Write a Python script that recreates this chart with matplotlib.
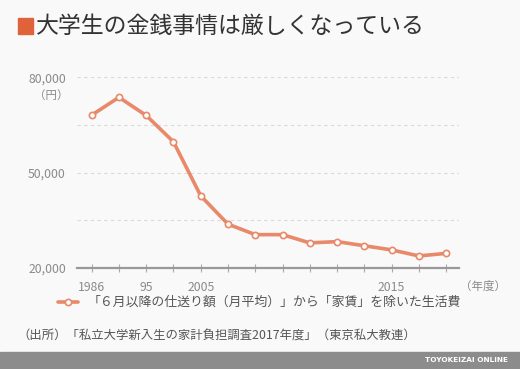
import numpy as np
import matplotlib.pyplot as plt
from matplotlib.patches import Rectangle

plt.rcParams['font.family'] = ['Noto Sans CJK JP', 'DejaVu Sans']

# データ（東京私大教連）
tick_labels = ["1986", "", "95", "", "2005", "", "", "", "", "", "", "2015", "", ""]
living = [68100, 73700, 68000, 59700, 42700, 33800, 30500,
          30500, 27900, 28300, 27000, 25700, 23800, 24600]

yticks = [20000, 35000, 50000, 65000, 80000]
ytick_labels = ["20,000", "", "50,000", "", "80,000"]

bg = "#f9f9f9"
orange = "#e8896a"

fig = plt.figure(figsize=(5.2, 3.69), dpi=100, facecolor=bg)
ax = fig.add_axes([0.148, 0.2737, 0.735, 0.5168], facecolor=bg)

x = np.arange(len(living))
ax.plot(x, living, color=orange, lw=2.6, marker="o", ms=4.5,
        mfc="white", mec=orange, mew=1.2, zorder=3, solid_capstyle="round")

ax.set_xlim(-0.54, len(living) - 1 + 0.48)
ax.set_ylim(20000, 80000)
ax.set_yticks(yticks)
ax.set_yticklabels(ytick_labels)
ax.set_xticks(x)
ax.set_xticklabels(tick_labels)

for y in yticks[1:]:
    ax.axhline(y, color="#d9d9d9", lw=0.8, ls=(0, (3, 3)), zorder=1)

for s in ["top", "right", "left"]:
    ax.spines[s].set_visible(False)
ax.spines["bottom"].set_color("#999999")
ax.spines["bottom"].set_linewidth(1.6)

ax.tick_params(axis="x", direction="inout", length=6, width=0.8, color="#aaaaaa",
               labelsize=8.8, labelcolor="#8a8a8a", pad=6)
ax.tick_params(axis="y", length=0, labelsize=8.8, labelcolor="#8a8a8a", pad=8)

fig.text(68 / 520, 1 - 95 / 369, "（円）", ha="right", va="center",
         fontsize=8.3, color="#8a8a8a")
fig.text(460 / 520, 1 - 286 / 369, "（年度）", ha="left", va="center",
         fontsize=8.3, color="#8a8a8a")

# タイトル
fig.patches.append(Rectangle((18 / 520, 1 - 34 / 369), 15 / 520, 16 / 369,
                             transform=fig.transFigure, color="#e0623a"))
fig.text(36 / 520, 1 - 26 / 369, "大学生の金銭事情は厳しくなっている",
         ha="left", va="center", fontsize=16.5, color="#333333")

# 凡例
fig.lines.append(plt.Line2D([58 / 520, 78 / 520], [1 - 302 / 369] * 2,
                            transform=fig.transFigure, color=orange, lw=2.6,
                            solid_capstyle="round"))
fig.lines.append(plt.Line2D([68 / 520], [1 - 302 / 369], transform=fig.transFigure,
                            marker="o", ms=4.5, mfc="white", mec=orange, mew=1.2))
fig.text(88 / 520, 1 - 302 / 369, "「６月以降の仕送り額（月平均）」から「家賃」を除いた生活費",
         ha="left", va="center", fontsize=9.3, color="#555555")

# 出所
fig.text(17 / 520, 1 - 335 / 369, "（出所）「私立大学新入生の家計負担調査2017年度」（東京私大教連）",
         ha="left", va="center", fontsize=8.9, color="#555555")

# 下部バー
fig.patches.append(Rectangle((0, 0), 1, 17 / 369, transform=fig.transFigure,
                             color="#8c8c8c"))
fig.text(508 / 520, 8.5 / 369, "TOYOKEIZAI ONLINE", ha="right", va="center",
         fontsize=5.3, color="white", fontweight="bold", family="DejaVu Sans")

fig.savefig("out.png", dpi=100, facecolor=bg)
